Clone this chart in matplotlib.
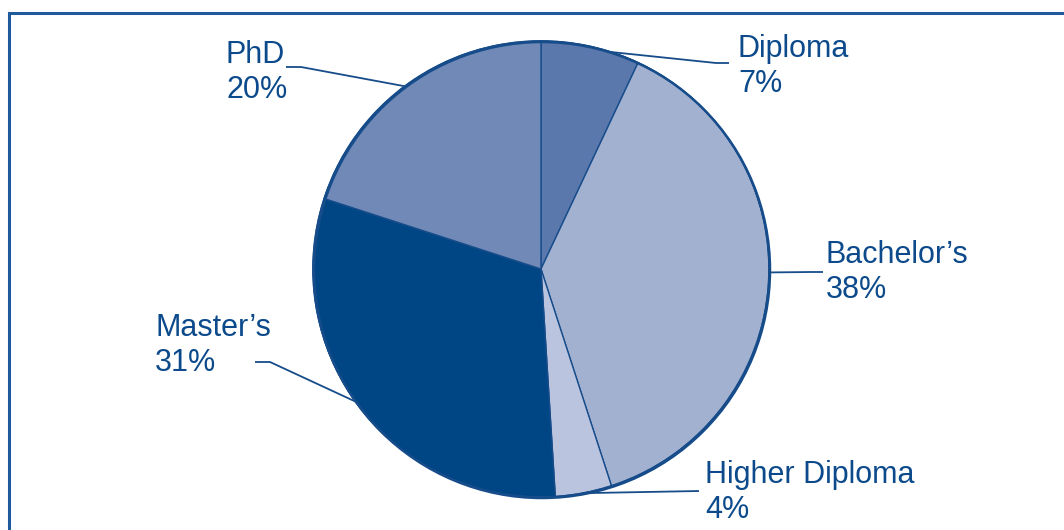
import numpy as np
import matplotlib
matplotlib.use("Agg")
import matplotlib.pyplot as plt
from matplotlib.patches import Circle

# Share of staff by highest qualification (%), clockwise from the top
categories = ["Diploma", "Bachelor\u2019s", "Higher Diploma", "Master\u2019s", "PhD"]
shares = [7, 38, 4, 31, 20]
colors = ["#5a78ab", "#a3b1d1", "#bbc4df", "#004685", "#7089b7"]

W, H = 1064, 530
TEXT = "#0c4a8b"
LINE = "#164c8a"

plt.rcParams["font.family"] = ["Liberation Sans", "DejaVu Sans"]

fig = plt.figure(figsize=(W / 100, H / 100), dpi=100)
ax = fig.add_axes([0, 0, 1, 1])

cx, cy, R = 541, H - 269, 228
wedges, _ = ax.pie(shares, colors=colors, startangle=90, counterclock=False,
                   center=(cx, cy), radius=R,
                   wedgeprops=dict(edgecolor=LINE, linewidth=1.0))
ax.set_xlim(0, W)
ax.set_ylim(0, H)
ax.set_aspect("auto")
ax.axis("off")

# darker rim, slightly heavier toward the lower right
ax.add_patch(Circle((cx + 1, cy - 1), R, fill=False, edgecolor=LINE, lw=1.8, zorder=3))
ax.add_patch(Circle((cx, cy), R, fill=False, edgecolor=LINE, lw=1.2, zorder=3))

# frame around the chart (open to the right and bottom)
ax.plot([9, 9, W + 5], [-5, H - 13, H - 13], color="#1f5b9c", lw=2.2,
        solid_joinstyle="miter", clip_on=False)

# label placement: text position (x, baseline of the value line, top-down px),
# where the leader leaves the text, elbow, and how far along the wedge it lands
labels = {
    "Diploma":          dict(xy=(738, 92),  tail=(729, 63),  elbow=(716, 63),  frac=0.71),
    "Bachelor\u2019s":  dict(xy=(826, 298), tail=(823, 272), elbow=(811, 272), frac=0.48),
    "Higher Diploma":   dict(xy=(705, 518), tail=(699, 491), elbow=(699, 491), frac=0.52),
    "Master\u2019s":    dict(xy=(155, 371), tail=(255, 362), elbow=(270, 362), frac=0.52),
    "PhD":              dict(xy=(226, 98),  tail=(286, 67),  elbow=(301, 67),  frac=0.49),
}

for w, name, val in zip(wedges, categories, shares):
    spec = labels[name]
    t1, t2 = w.theta1, w.theta2
    ang = np.deg2rad(t2 - spec["frac"] * (t2 - t1))
    ax_pt = (cx + R * np.cos(ang), cy + R * np.sin(ang))
    tx, ty = spec["tail"]
    ex, ey = spec["elbow"]
    ax.plot([tx, ex, ax_pt[0]], [H - ty, H - ey, ax_pt[1]], color=LINE, lw=1.3,
            zorder=4, solid_capstyle="butt")
    x, y = spec["xy"]
    ax.text(x, H - y, f"{name}\n{val}%", ha="left", va="baseline",
            fontsize=22, color=TEXT, linespacing=1.21)

fig.savefig("out.png", dpi=100, facecolor="white")
